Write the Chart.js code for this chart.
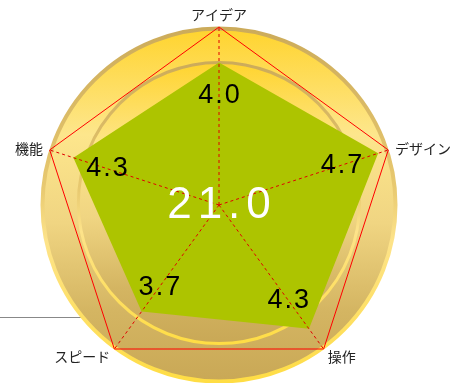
<!DOCTYPE html>
<html>
<head>
<meta charset="utf-8">
<script src="https://cdn.jsdelivr.net/npm/chart.js@4/dist/chart.umd.min.js"></script>
<style>
  body { margin: 0; background: #fff; }
  #wrap { position: relative; width: 465px; height: 383px; }
  #rule { position: absolute; left: 0; top: 317px; width: 95px; height: 1px; border-top: 1px solid #888; }
  #radar { position: absolute; left: 0; top: 0; }
</style>
</head>
<body>
<div id="wrap">
  <div id="rule"></div>
  <canvas id="radar" width="465" height="383"></canvas>
</div>
<script>
// radar scores (max 5)
const categories = ['アイデア', 'デザイン', '操作', 'スピード', '機能'];
const scores = [4.0, 4.7, 4.3, 3.7, 4.3];
const scoreMax = 5;

const total = scores.reduce((a, b) => a + b, 0);

// gold medal behind the chart
const medalPlugin = {
  id: 'medal',
  beforeDraw(chart) {
    const s = chart.scales.r;
    const ctx = chart.ctx;
    const cx = s.xCenter, cy = s.yCenter, R = s.drawingArea;

    function disc(x, y, r, lw) {
      let g = ctx.createLinearGradient(0, y - r, 0, y + r);
      g.addColorStop(0, '#ffd42e');
      g.addColorStop(0.3, '#fde68c');
      g.addColorStop(0.55, '#f0d582');
      g.addColorStop(0.8, '#d4b562');
      g.addColorStop(1, '#c9a856');
      ctx.beginPath();
      ctx.arc(x, y, r, 0, Math.PI * 2);
      ctx.fillStyle = g;
      ctx.fill();
      let sg = ctx.createLinearGradient(0, y - r, 0, y + r);
      sg.addColorStop(0, '#ccab5a');
      sg.addColorStop(0.45, '#e8c970');
      sg.addColorStop(0.6, '#fde38a');
      sg.addColorStop(1, '#ffdd44');
      ctx.lineWidth = lw;
      ctx.strokeStyle = sg;
      ctx.stroke();
    }
    ctx.save();
    disc(cx, cy, R - 1.5, 4);
    disc(cx, cy - 2, R * 0.79, 3);
    ctx.restore();
  }
};

// axis names, value labels and the total
const textPlugin = {
  id: 'texts',
  afterDraw(chart) {
    const s = chart.scales.r;
    const ctx = chart.ctx;
    ctx.save();

    ctx.font = '14px "Noto Sans CJK JP"';
    ctx.fillStyle = '#222';
    categories.forEach((name, i) => {
      const p = s.getPointPosition(i, s.drawingArea + 7);
      const dx = p.x - s.xCenter, dy = p.y - s.yCenter;
      if (Math.abs(dx) < 2) {
        ctx.textAlign = 'center';
        ctx.textBaseline = 'bottom';
        ctx.fillText(name, p.x, p.y + 2);
      } else {
        ctx.textAlign = dx > 0 ? 'left' : 'right';
        ctx.textBaseline = 'middle';
        ctx.fillText(name, p.x, p.y + (dy > 0 ? 2 : 1));
      }
    });

    ctx.fillStyle = '#000';
    ctx.font = '27px "Liberation Sans", Arial';
    ctx.letterSpacing = '2px';
    ctx.textAlign = 'center';
    ctx.textBaseline = 'middle';
    scores.forEach((v, i) => {
      const p = s.getPointPosition(i, s.getDistanceFromCenterForValue(v) * 0.77);
      ctx.fillText(v.toFixed(1), p.x + 1, p.y);
    });

    ctx.fillStyle = '#fff';
    ctx.font = '44px "Liberation Sans", Arial';
    ctx.letterSpacing = '6px';
    ctx.fillText(total.toFixed(1), s.xCenter + 3, s.yCenter + 1);
    ctx.restore();
  }
};

const ctx = document.getElementById('radar').getContext('2d');
const radarChart = new Chart(ctx, {
  type: 'radar',
  data: {
    labels: categories,
    datasets: [{
      data: scores,
      backgroundColor: '#adc400',
      borderWidth: 0,
      pointRadius: 0,
      fill: true
    }]
  },
  options: {
    responsive: false,
    animation: false,
    layout: { padding: { left: 41, right: 68, top: 27, bottom: 0 } },
    plugins: { legend: { display: false }, tooltip: { enabled: false } },
    scales: {
      r: {
        min: 0,
        max: scoreMax,
        ticks: { display: false, stepSize: scoreMax },
        pointLabels: { display: false },
        grid: { z: 1, color: '#ff0000', lineWidth: 1 },
        angleLines: { color: '#e00000', lineWidth: 1, borderDash: [3, 3] }
      }
    }
  },
  plugins: [medalPlugin, textPlugin]
});
</script>
</body>
</html>
